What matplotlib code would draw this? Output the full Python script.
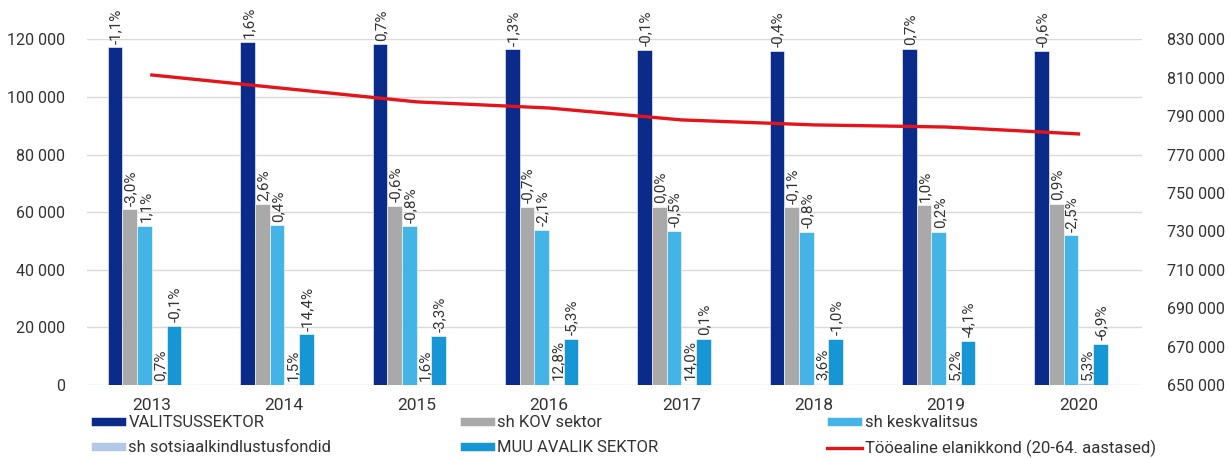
import numpy as np
import matplotlib.pyplot as plt
from matplotlib.ticker import FuncFormatter

plt.rcParams['font.family'] = ['Roboto', 'DejaVu Sans']

years = ['2013', '2014', '2015', '2016', '2017', '2018', '2019', '2020']

valitsus = [117300, 119200, 118300, 116700, 116500, 116100, 116800, 116100]
kov = [61100, 62700, 62300, 61900, 61900, 61800, 62400, 63000]
kesk = [55300, 55500, 55100, 53900, 53600, 53200, 53300, 52000]
sots = [350, 355, 360, 405, 460, 480, 505, 530]
muu = [20600, 17600, 17050, 16150, 16150, 16000, 15350, 14300]
tooealine = [811500, 804500, 797500, 794300, 788100, 785500, 784400, 780800]

valitsus_pct = ['-1,1%', '1,6%', '0,7%', '-1,3%', '-0,1%', '-0,4%', '0,7%', '-0,6%']
kov_pct = ['-3,0%', '2,6%', '-0,6%', '-0,7%', '0,0%', '-0,1%', '1,0%', '0,9%']
kesk_pct = ['1,1%', '0,4%', '-0,8%', '-2,1%', '-0,5%', '-0,8%', '0,2%', '-2,5%']
sots_pct = ['0,7%', '1,5%', '1,6%', '12,8%', '14,0%', '3,6%', '5,2%', '5,3%']
muu_pct = ['-0,1%', '-14,4%', '-3,3%', '-5,3%', '0,1%', '-1,0%', '-4,1%', '-6,9%']

series = [
    ('VALITSUSSEKTOR', valitsus, valitsus_pct, '#0b2b8a'),
    ('sh KOV sektor', kov, kov_pct, '#a9a9a9'),
    ('sh keskvalitsus', kesk, kesk_pct, '#44b4e6'),
    ('sh sotsiaalkindlustusfondid', sots, sots_pct, '#b4c8e6'),
    ('MUU AVALIK SEKTOR', muu, muu_pct, '#1696d4'),
]

fig = plt.figure(figsize=(12.29, 4.59), dpi=100)
ax = fig.add_axes([0.0708, 0.1612, 0.8584, 0.7528])
ax2 = ax.twinx()

x = np.arange(len(years))
w = 0.111
handles = []
for i, (name, vals, pcts, col) in enumerate(series):
    pos = x + (i - 2.5) * w
    b = ax.bar(pos, vals, w, color=col, edgecolor='white', linewidth=0.4,
               label=name, zorder=2)
    handles.append(b)
    for px, v, t in zip(pos, vals, pcts):
        ax.annotate(t, (px, v), xytext=(1, 2.5), textcoords='offset points',
                    rotation=90, ha='center', va='bottom', fontsize=11,
                    color='#333333', clip_on=False, zorder=4)

line, = ax2.plot(x, tooealine, color='#e5141b', lw=2.4, zorder=5,
                 label='Tööealine elanikkond (20-64. aastased)')
handles.append(line)

ax.set_ylim(0, 120000)
ax.set_yticks(np.arange(0, 120001, 20000))
ax2.set_ylim(650000, 830000)
ax2.set_yticks(np.arange(650000, 830001, 20000))
ax.set_xlim(-0.49, 7.48)
ax.set_xticks(x)
ax.set_xticklabels(years)

fmt = FuncFormatter(lambda v, p: f'{int(v):,}'.replace(',', ' '))
ax.yaxis.set_major_formatter(fmt)
ax2.yaxis.set_major_formatter(fmt)

ax.grid(axis='y', color='#d9d9d9', lw=1, zorder=0)
ax.set_axisbelow(True)
for a in (ax, ax2):
    for s in a.spines.values():
        s.set_visible(False)
    a.tick_params(length=0, labelsize=11.5, colors='#333333')
ax.tick_params(axis='y', pad=16)
ax2.tick_params(axis='y', pad=18)
ax.tick_params(axis='x', pad=9, labelsize=12.5)
ax.set_zorder(ax2.get_zorder() - 1)
ax.patch.set_visible(False)
ax2.patch.set_visible(False)

# legend: three one-column blocks, two entries each, tops aligned
columns = [(0, 3), (1, 4), (2, 5)]
col_x = [0.072, 0.372, 0.671]
for (a_i, b_i), cx in zip(columns, col_x):
    fig.legend([handles[a_i], handles[b_i]],
               [handles[a_i].get_label(), handles[b_i].get_label()],
               ncol=1, loc='upper left', bbox_to_anchor=(cx, 0.101),
               frameon=False, fontsize=12, handlelength=2.1,
               handleheight=0.45, handletextpad=0.15, labelspacing=0.6,
               borderaxespad=0.0, borderpad=0.15, labelcolor='#333333')

fig.savefig('out.png', dpi=100)
